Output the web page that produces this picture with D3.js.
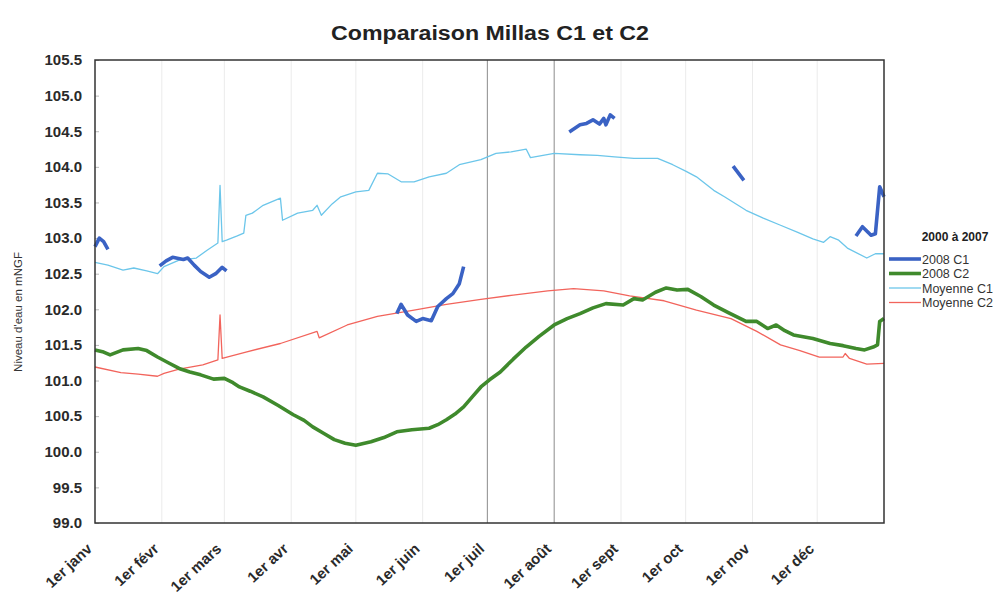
<!DOCTYPE html>
<html>
<head>
<meta charset="utf-8">
<script src="https://d3js.org/d3.v7.min.js"></script>
<style>
  body { margin: 0; background: #fff; }
  text { font-family: "Liberation Sans", Arial, sans-serif; }
</style>
</head>
<body>
<div id="chart"></div>
<script>
// jours depuis le 1er janvier 2008 -> niveau d'eau (mNGF)
var moisLabels = ["1er janv", "1er févr", "1er mars", "1er avr", "1er mai", "1er juin",
                  "1er juil", "1er août", "1er sept", "1er oct", "1er nov", "1er déc"];
var yTicks = d3.range(0, 14).map(function (i) { return 99 + i * 0.5; });

var c1_2008 = [[0,102.88],[2,103.0],[4,102.95],[6,102.84],[7,null],
  [30,102.61],[33,102.68],[36,102.73],[41,102.70],[43,102.72],[46,102.62],[49,102.53],[53,102.45],[56,102.50],[59,102.59],[61,102.54],[62,null],
  [140,101.94],[142,102.07],[145,101.92],[149,101.83],[152,101.87],[156,101.84],[159,102.04],[163,102.15],[166,102.22],[169,102.36],[171,102.60],[172,null],
  [220,104.49],[225,104.59],[228,104.61],[231,104.66],[234,104.60],[236,104.68],[237,104.59],[239,104.73],[241,104.68],[242,null],
  [296,104.01],[301,103.81],[302,null],
  [353,103.03],[356,103.16],[360,103.04],[362,103.06],[364,103.72],[365,103.65],[366,103.58]];

var c2_2008 = [[0,101.43],[4,101.40],[7,101.36],[13,101.43],[20,101.45],[24,101.42],[29,101.33],[34,101.25],[39,101.17],[44,101.12],[49,101.08],
  [55,101.02],[60,101.03],[64,100.97],[67,100.91],[72,100.85],[78,100.77],[85,100.65],[92,100.52],[97,100.44],[101,100.35],[106,100.26],
  [111,100.17],[116,100.12],[121,100.09],[128,100.14],[134,100.20],[140,100.28],[147,100.31],[155,100.33],[159,100.38],[163,100.45],[167,100.53],
  [171,100.63],[175,100.77],[179,100.91],[183,101.01],[188,101.12],[194,101.30],[200,101.47],[206,101.62],[213,101.78],[219,101.87],[225,101.94],
  [231,102.02],[237,102.08],[245,102.06],[250,102.15],[254,102.13],[260,102.24],[265,102.30],[270,102.27],[275,102.28],[281,102.18],[287,102.06],
  [294,101.95],[302,101.83],[307,101.83],[312,101.73],[316,101.78],[320,101.70],[324,101.64],[333,101.59],[341,101.52],[347,101.49],[353,101.45],
  [357,101.43],[361,101.47],[363,101.50],[364,101.83],[366,101.87]];

var moyenneC1 = [[0,102.66],[6,102.62],[13,102.55],[18,102.58],[24,102.54],[29,102.50],[32,102.60],[39,102.69],[47,102.72],[52,102.83],
  [57,102.93],[58,103.74],[59,102.95],[61,102.97],[66,103.03],[69,103.07],[70,103.32],[73,103.35],[78,103.46],[86,103.56],[87,103.25],
  [94,103.35],[101,103.39],[103,103.46],[105,103.32],[110,103.48],[114,103.58],[121,103.65],[127,103.67],[131,103.91],[136,103.90],
  [142,103.79],[148,103.79],[155,103.86],[163,103.91],[169,104.03],[179,104.10],[186,104.19],[193,104.21],[200,104.25],[202,104.13],
  [213,104.19],[225,104.17],[233,104.16],[241,104.14],[250,104.12],[261,104.12],[268,104.03],[274,103.94],[279,103.86],[287,103.67],
  [292,103.58],[302,103.39],[310,103.28],[318,103.18],[326,103.08],[333,102.99],[338,102.94],[341,103.02],[345,102.97],[349,102.86],
  [358,102.72],[362,102.78],[366,102.78]];

var moyenneC2 = [[0,101.19],[12,101.11],[20,101.09],[29,101.06],[32,101.10],[39,101.16],[50,101.22],[57,101.29],[58,101.92],[59,101.31],
  [70,101.40],[86,101.52],[103,101.69],[104,101.60],[117,101.78],[131,101.90],[148,101.99],[163,102.07],[179,102.14],[194,102.20],
  [210,102.26],[222,102.29],[236,102.26],[248,102.19],[264,102.12],[279,101.99],[295,101.87],[307,101.69],[318,101.50],[327,101.42],
  [336,101.33],[347,101.33],[348,101.38],[350,101.31],[358,101.23],[366,101.24]];

var series = [
  { name: "2008 C1", data: c1_2008, color: "#3a62c4", width: 3.6 },
  { name: "2008 C2", data: c2_2008, color: "#3f8a2c", width: 3.6 },
  { name: "Moyenne C1", data: moyenneC1, color: "#6cc6ea", width: 1.3 },
  { name: "Moyenne C2", data: moyenneC2, color: "#f2645c", width: 1.3 }
];

var W = 1000, H = 595;
var margin = { left: 95, right: 116, top: 60, bottom: 72 };
var svg = d3.select("#chart").append("svg").attr("width", W).attr("height", H);

var start = new Date(2008, 0, 1);
function jour(d) { return d3.timeDay.offset(start, d); }

var x = d3.scaleTime().domain([start, new Date(2009, 0, 1)]).range([margin.left, W - margin.right]);
var y = d3.scaleLinear().domain([99, 105.5]).range([H - margin.bottom, margin.top]);
var mois = d3.timeMonth.range(start, new Date(2009, 0, 1));

// title
svg.append("text")
  .attr("x", 490).attr("y", 40)
  .attr("text-anchor", "middle")
  .style("font-size", "20px").style("font-weight", "bold").style("fill", "#222")
  .attr("textLength", 318).attr("lengthAdjust", "spacingAndGlyphs")
  .text("Comparaison Millas C1 et C2");

// vertical month gridlines
svg.append("g").selectAll("line")
  .data(mois.slice(1))
  .enter().append("line")
    .attr("x1", function (d) { return x(d); }).attr("x2", function (d) { return x(d); })
    .attr("y1", y(105.5)).attr("y2", y(99))
    .attr("stroke", function (d) { return (d.getMonth() === 6 || d.getMonth() === 7) ? "#8c8c8c" : "#ebebeb"; })
    .attr("stroke-width", 1);

// y axis
var yAxis = svg.append("g")
  .attr("transform", "translate(" + margin.left + ",0)")
  .call(d3.axisRight(y).tickValues(yTicks).tickSize(4).tickFormat(d3.format(".1f")));
yAxis.select(".domain").remove();
yAxis.selectAll(".tick line").attr("stroke", "#bbb");
yAxis.selectAll(".tick text")
  .attr("x", -13).attr("text-anchor", "end")
  .style("font-size", "15px").style("font-weight", "bold").style("fill", "#2a2a2a")
  .style("font-family", "'Liberation Sans', Arial, sans-serif");

svg.append("text")
  .attr("transform", "translate(22,312) rotate(-90)")
  .attr("text-anchor", "middle")
  .style("font-size", "11.5px").style("fill", "#333")
  .text("Niveau d'eau en mNGF");

// x axis labels
svg.append("g").selectAll("text")
  .data(mois)
  .enter().append("text")
    .attr("transform", function (d) { return "translate(" + (x(d) - 2) + "," + (y(99) + 27) + ") rotate(-43)"; })
    .attr("text-anchor", "end")
    .style("font-size", "15px").style("font-weight", "bold").style("fill", "#2a2a2a")
    .text(function (d, i) { return moisLabels[i]; });

// lines
var line = d3.line()
  .defined(function (d) { return d[1] !== null; })
  .x(function (d) { return x(jour(d[0])); })
  .y(function (d) { return y(d[1]); });

var drawOrder = [series[2], series[3], series[1], series[0]];
svg.append("g").selectAll("path")
  .data(drawOrder)
  .enter().append("path")
    .attr("d", function (s) { return line(s.data); })
    .attr("fill", "none")
    .attr("stroke", function (s) { return s.color; })
    .attr("stroke-width", function (s) { return s.width; })
    .attr("stroke-linejoin", "round");

// frame
svg.append("rect")
  .attr("x", margin.left).attr("y", margin.top)
  .attr("width", W - margin.right - margin.left).attr("height", H - margin.bottom - margin.top)
  .attr("fill", "none").attr("stroke", "#333").attr("stroke-width", 1.5);

// legend
var lg = svg.append("g");
lg.append("text")
  .attr("x", 955).attr("y", 241)
  .attr("text-anchor", "middle")
  .style("font-size", "12px").style("font-weight", "bold").style("fill", "#222")
  .text("2000 à 2007");
var items = lg.selectAll("g.item")
  .data(series)
  .enter().append("g")
    .attr("transform", function (d, i) { return "translate(0," + (259 + i * 14.5) + ")"; });
items.append("line")
  .attr("x1", 889).attr("x2", 921)
  .attr("stroke", function (d) { return d.color; })
  .attr("stroke-width", function (d) { return d.width; });
items.append("text")
  .attr("x", 922).attr("y", 4.5)
  .style("font-size", "12.5px").style("fill", "#333")
  .text(function (d) { return d.name; });
</script>
</body>
</html>
